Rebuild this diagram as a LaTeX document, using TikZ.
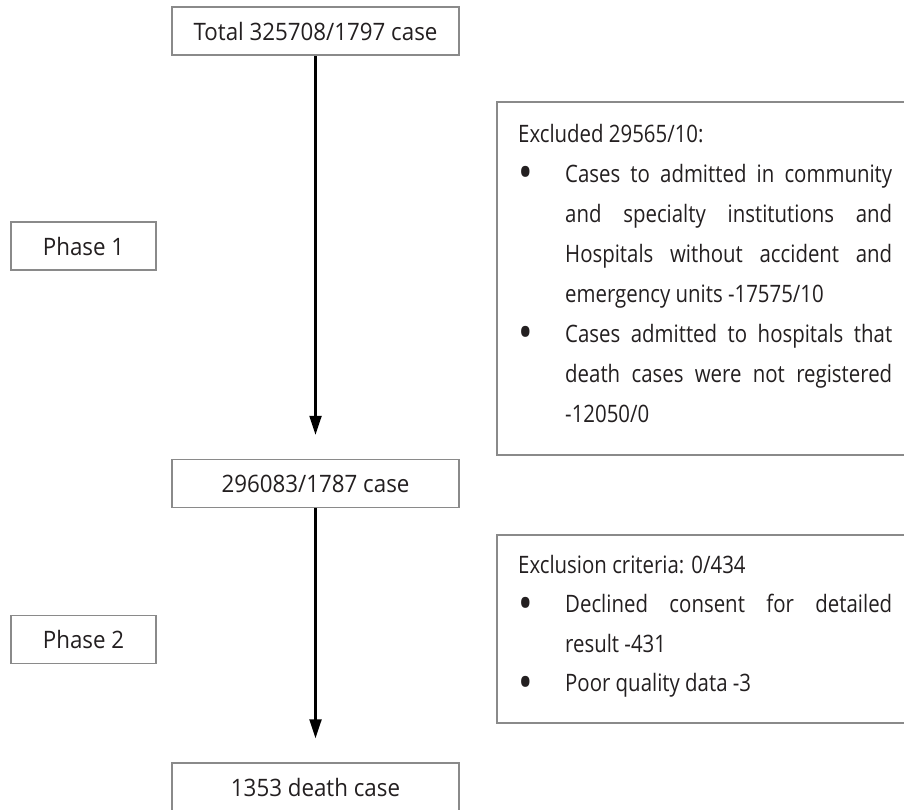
\documentclass[tikz,border=0pt]{standalone}
\usepackage{fontspec}
\setmainfont{Open Sans}[FakeStretch=0.93]
\newfontfamily\listfont{Open Sans}[FakeStretch=0.85]
\usetikzlibrary{arrows.meta}
\definecolor{boxgrey}{HTML}{8A8A8A}
\definecolor{txt}{HTML}{231F20}
\tikzset{
  flowbox/.style={draw=boxgrey, line width=1.5pt, fill=white, inner sep=0pt, text=txt,
    font=\fontsize{24}{28}\selectfont},
  mainbox/.style={flowbox, minimum width=287pt, minimum height=48pt},
  phasebox/.style={flowbox, minimum width=145pt, minimum height=48pt},
  exbox/.style={draw=boxgrey, line width=1.5pt, anchor=north west, minimum width=420pt, inner sep=0pt},
  flowarrow/.style={line width=2.3pt, -{Triangle[length=19pt,width=12pt]}, shorten >=24pt},
  listtext/.style={inner sep=0pt, anchor=base west, text=txt}
}
\newcommand{\bulletitem}{\par\hangindent=47pt\hangafter=1\noindent\makebox[47pt][l]{\raisebox{-6.5pt}{\scalebox{1.9}{\textbullet}}}}
\begin{document}
\begin{tikzpicture}[x=1pt,y=-1pt]
\useasboundingbox (0,0) rectangle (904,809);
\clip (0,0) rectangle (904,809);
\node[mainbox] (total) at (315.5,31) {Total 325708/1797 case};
\node[mainbox] (mid) at (315.5,483.5) {296083/1787 case};
\node[mainbox] (final) at (315.5,787) {1353 death case};
\node[phasebox] (ph1) at (83.5,246) {Phase 1};
\node[phasebox] (ph2) at (83.5,639.5) {Phase 2};
\node[exbox, minimum height=353pt] (ex1box) at (496,101) {};
\node[exbox, minimum height=188pt] (ex2box) at (496,534) {};
\node[listtext] (ex1) at (518,142) {\begin{minipage}[t]{374pt}\listfont\fontsize{24}{40}\selectfont\setlength{\parindent}{0pt}\hyphenpenalty=10000 \emergencystretch=20pt
Excluded 29565/10:
\bulletitem Cases to admitted in community\linebreak and specialty institutions and\linebreak Hospitals without accident and\linebreak emergency units \mbox{-17575/10}
\bulletitem Cases admitted to hospitals that\linebreak death cases were not registered\linebreak \mbox{-12050/0}\par
\end{minipage}};
\node[listtext] (ex2) at (518,573) {\begin{minipage}[t]{374pt}\listfont\fontsize{24}{39.5}\selectfont\setlength{\parindent}{0pt}\hyphenpenalty=10000
Exclusion criteria: 0/434
\bulletitem Declined consent for detailed\linebreak result \mbox{-431}
\bulletitem Poor quality data -3\par
\end{minipage}};
\draw[flowarrow] (total.south) -- (mid.north);
\draw[flowarrow] (mid.south) -- (final.north);
\end{tikzpicture}
\end{document}
